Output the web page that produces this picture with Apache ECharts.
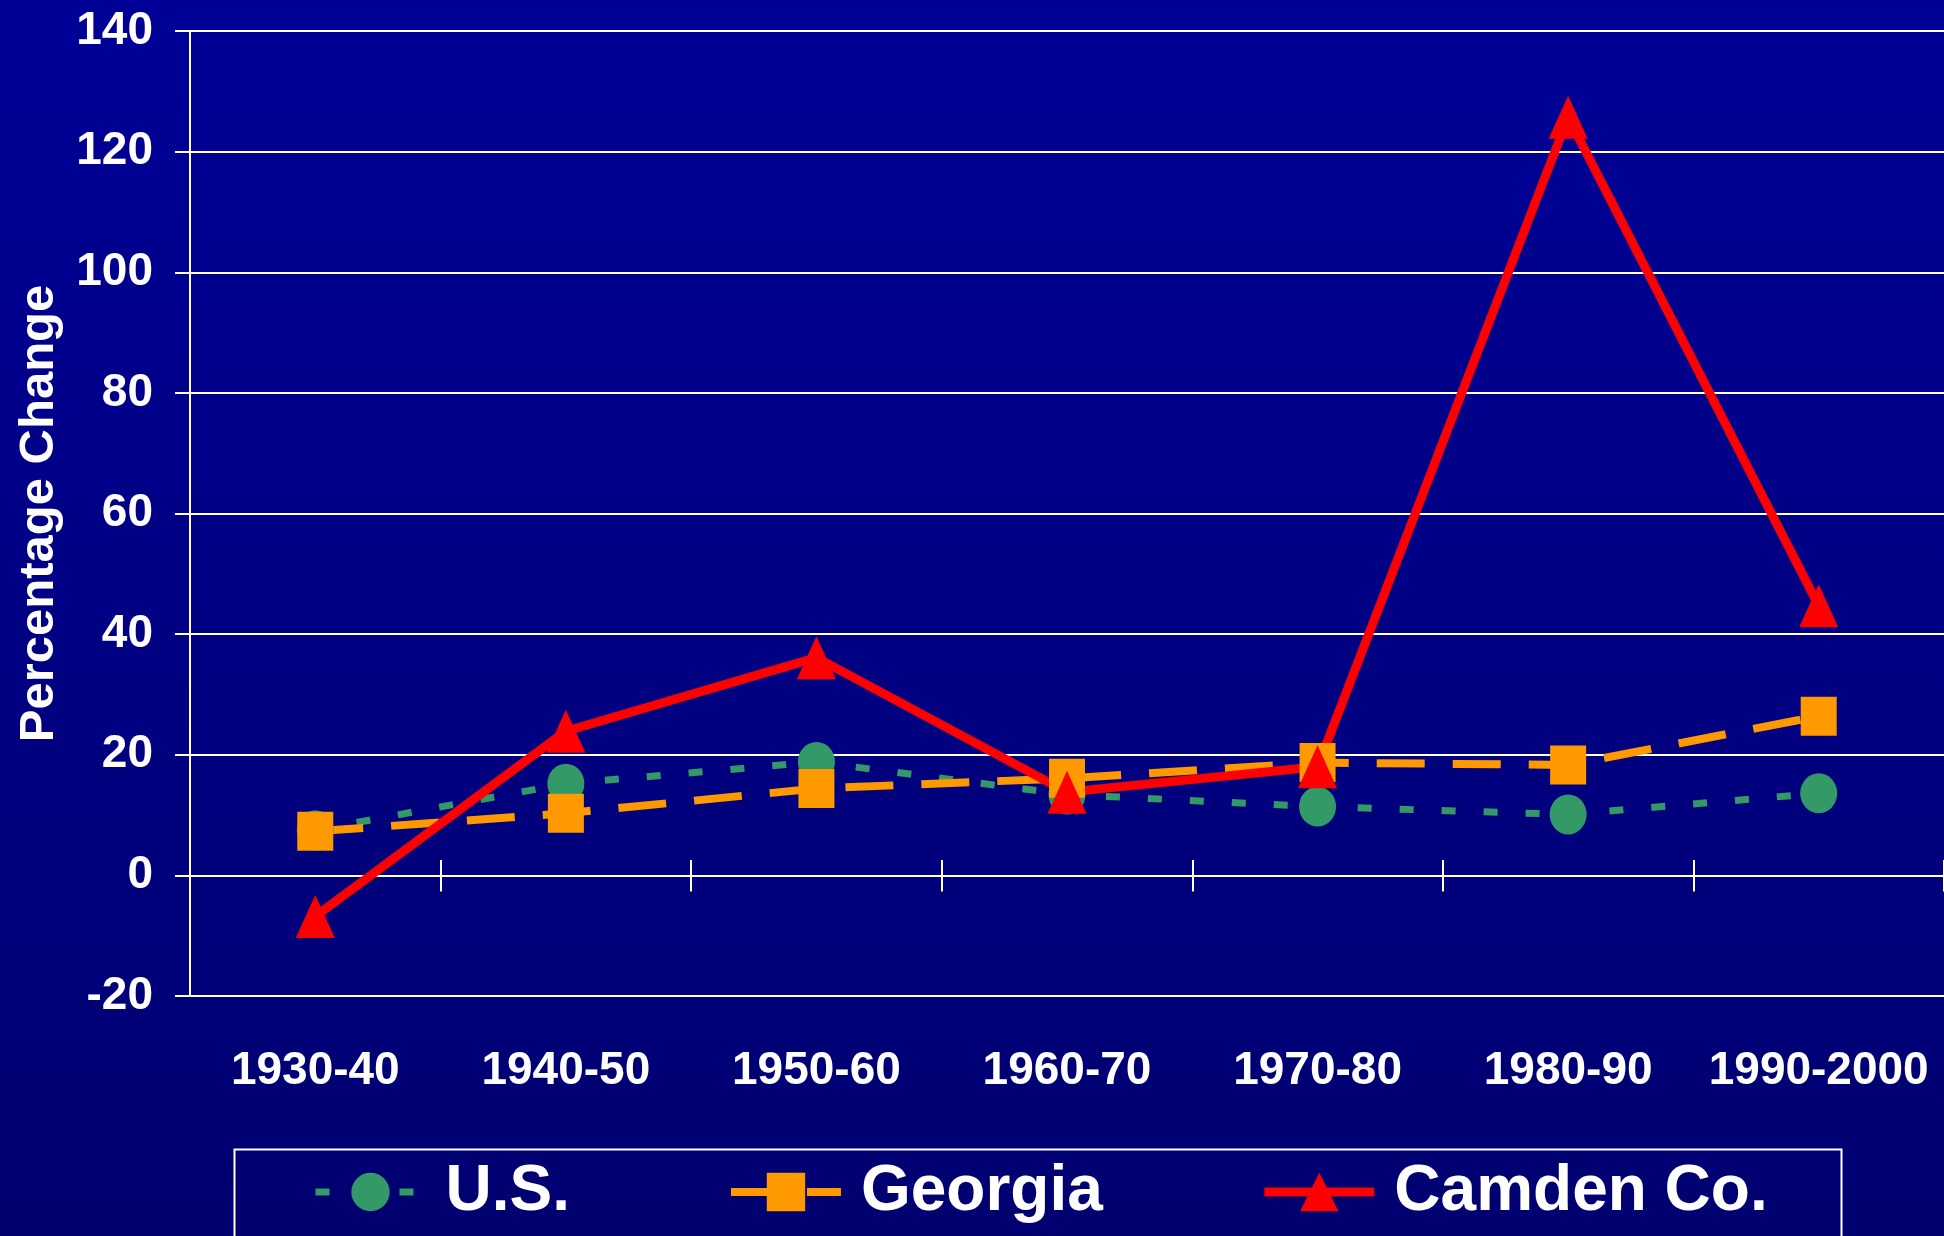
<!DOCTYPE html>
<html>
<head>
<meta charset="utf-8">
<script src="https://cdn.jsdelivr.net/npm/echarts@6/dist/echarts.min.js"></script>
<style>
html, body { margin: 0; padding: 0; }
#container { width: 1944px; height: 1236px; }
</style>
</head>
<body>
<div id="container"></div>
<script>
var periods = ['1930-40', '1940-50', '1950-60', '1960-70', '1970-80', '1980-90', '1990-2000'];
var usChange = [7.5, 15.2, 18.8, 13.4, 11.4, 10.1, 13.6];
var georgiaChange = [7.3, 10.3, 14.4, 16.1, 18.7, 18.3, 26.4];
var camdenChange = [-6.8, 23.9, 36.1, 13.8, 18.0, 125.7, 44.7];
var yTicks = { min: -20, max: 140, step: 20 };

var font = "'Liberation Sans', Arial, sans-serif";
var white = '#ffffff';
var dom = document.getElementById("container");
var myChart = echarts.init(dom);

var option = {
    animation: false,
    backgroundColor: {
        type: 'linear', x: 0, y: 0, x2: 0, y2: 1,
        colorStops: [{ offset: 0, color: '#000097' }, { offset: 1, color: '#000070' }]
    },
    grid: [
        { left: 190, top: 31, width: 1758, height: 965 },
        // thin helper grid whose top edge sits on the zero line, for the upward tick halves
        { left: 190, top: 876, width: 1758, height: 20 }
    ],
    graphic: [{
        type: 'rect',
        left: 232, top: 1147,
        shape: { width: 1607, height: 140 },
        style: { fill: 'none', stroke: white, lineWidth: 2 },
        silent: true
    }],
    legend: {
        left: 312, top: 1153,
        padding: 0,
        itemGap: 157,
        itemWidth: 110,
        itemHeight: 48,
        textStyle: { color: white, fontFamily: font, fontWeight: 'bold', fontSize: 64, lineHeight: 78, padding: [0, 0, 0, 15] },
        data: [
            { name: 'U.S.', lineStyle: { width: 7 } },
            { name: 'Georgia', lineStyle: { width: 8 } },
            { name: 'Camden Co.', lineStyle: { width: 9 } }
        ]
    },
    xAxis: [{
        type: 'category',
        gridIndex: 0,
        data: periods,
        position: 'bottom',
        axisLine: { onZero: true, lineStyle: { color: white, width: 2 } },
        axisTick: { show: true, interval: 0, length: 16, lineStyle: { color: white, width: 2 } },
        axisLabel: { interval: 0, color: white, fontFamily: font, fontWeight: 'bold', fontSize: 46, margin: 52 }
    }, {
        type: 'category',
        gridIndex: 1,
        data: periods,
        position: 'top',
        axisLine: { onZero: false, show: false },
        axisTick: { show: true, interval: 0, length: 16, lineStyle: { color: white, width: 2 } },
        axisLabel: { show: false }
    }],
    yAxis: [{
        type: 'value',
        gridIndex: 0,
        min: yTicks.min, max: yTicks.max, interval: yTicks.step,
        name: 'Percentage Change',
        nameLocation: 'middle',
        nameGap: 126,
        nameTextStyle: { color: white, fontFamily: font, fontWeight: 'bold', fontSize: 49 },
        axisLine: { show: true, lineStyle: { color: white, width: 2 } },
        axisTick: { show: true, length: 15, lineStyle: { color: white, width: 2 } },
        axisLabel: { color: white, fontFamily: font, fontWeight: 'bold', fontSize: 46, margin: 37 },
        splitLine: { lineStyle: { color: white, width: 2 } }
    }, {
        type: 'value',
        gridIndex: 1,
        show: false
    }],
    series: [
        {
            name: 'U.S.', type: 'line', data: usChange,
            symbol: 'circle', symbolSize: [37, 40],
            itemStyle: { color: '#339966' },
            lineStyle: { color: '#339966', width: 7, type: [14, 28] }
        },
        {
            name: 'Georgia', type: 'line', data: georgiaChange,
            symbol: 'rect', symbolSize: [36, 39],
            itemStyle: { color: '#ff9900' },
            lineStyle: { color: '#ff9900', width: 8, type: [48, 28] }
        },
        {
            name: 'Camden Co.', type: 'line', data: camdenChange,
            symbol: 'triangle', symbolSize: [39, 43],
            itemStyle: { color: '#ff0000' },
            lineStyle: { color: '#ff0000', width: 9 }
        }
    ]
};

myChart.setOption(option, true);
</script>
</body>
</html>
